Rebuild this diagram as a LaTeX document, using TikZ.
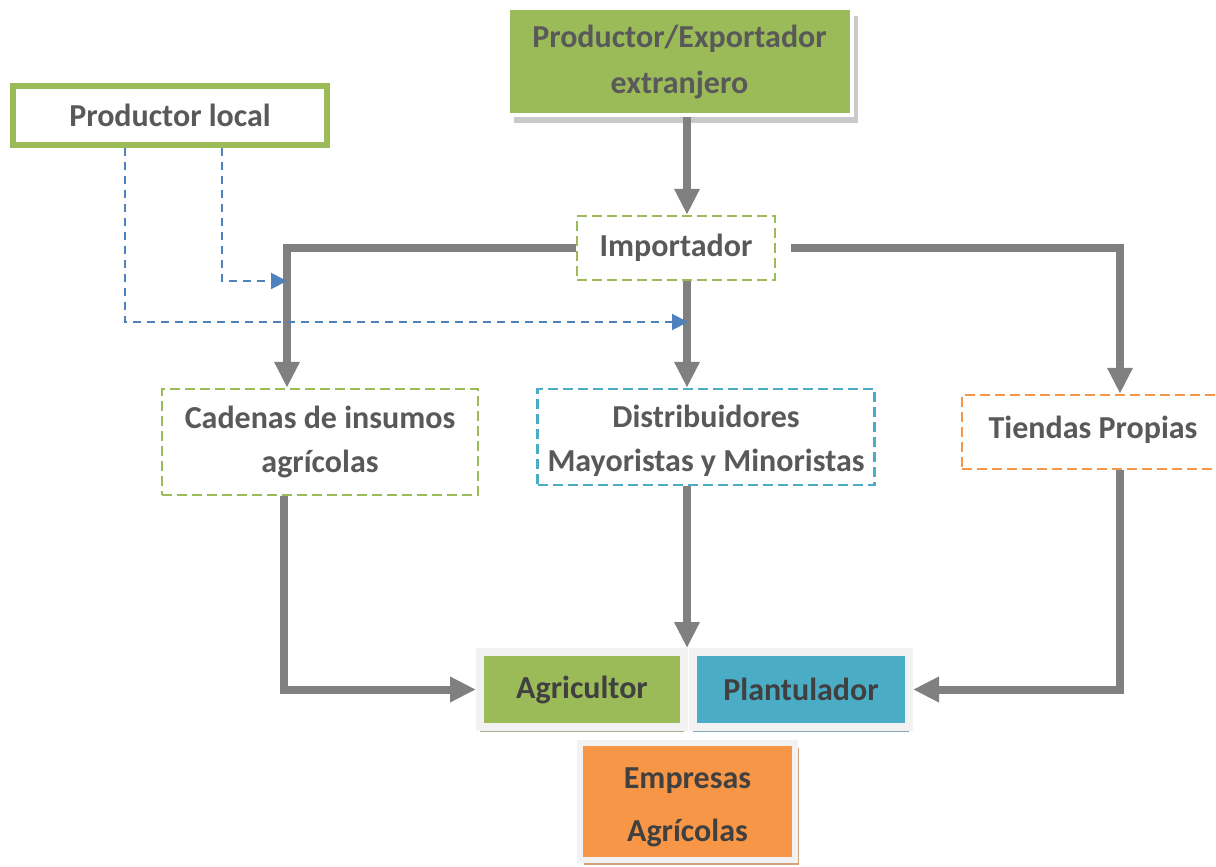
\documentclass[tikz,border=0pt]{standalone}
\usepackage{fontspec}
\setmainfont{Carlito}
\usepackage{tikz}
\usetikzlibrary{arrows.meta, shadows}

\definecolor{leafgreen}{HTML}{9BBB59}
\definecolor{aquablue}{HTML}{4BACC6}
\definecolor{sunorange}{HTML}{F79646}
\definecolor{flowgray}{HTML}{808080}
\definecolor{linkblue}{HTML}{4F81BD}
\definecolor{txtgray}{HTML}{595959}
\definecolor{txtdark}{HTML}{404040}

\begin{document}
\begin{tikzpicture}[
  x=0.5pt, y=-0.5pt,
  lbl/.style={font=\bfseries\fontsize{16}{22}\selectfont, text=txtgray, align=center},
  filled/.style={rectangle, lbl, draw=white, line width=2pt},
  dashbox/.style={rectangle, lbl, draw, fill=white, line width=1.25pt, dash pattern=on 5pt off 2.5pt},
  final/.style={rectangle, lbl, text=txtdark, draw=black!5, line width=4pt,
                minimum width=102pt, minimum height=37.5pt},
  flow/.style={draw=flowgray, line width=4pt, -{Triangle[width=12pt,length=13pt]}},
  feed/.style={draw=linkblue, line width=1pt, dash pattern=on 4pt off 3pt, -{Triangle[width=8pt,length=8pt]}},
]
  \useasboundingbox (0,0) rectangle (1216,867);

  % sources
  \node[filled, fill=leafgreen, minimum width=172pt, minimum height=53.5pt,
        font=\bfseries\fontsize{16}{23}\selectfont, yshift=-2pt,
        drop shadow={shadow xshift=3pt, shadow yshift=-4pt, fill=black!30, opacity=0.7}]
        (exp) at (679.5,57.5) {Productor/Exportador\\extranjero};
  \node[rectangle, lbl, draw=leafgreen, fill=white, line width=3pt,
        minimum width=157pt, minimum height=29.5pt] (loc) at (170,115.5) {Productor local};

  % middle level
  \node[dashbox, draw=leafgreen, minimum width=99pt, minimum height=32pt] (imp) at (676,248) {Importador};
  \node[dashbox, draw=leafgreen, minimum width=158pt, minimum height=53pt] (cad) at (320,442) {Cadenas de insumos\\agrícolas};
  \node[dashbox, draw=aquablue, minimum width=168.5pt, minimum height=48pt] (dis) at (706,437) {\rule{0pt}{15pt}Distribuidores\\Mayoristas y Minoristas};
  \node[dashbox, draw=sunorange, minimum width=131pt, minimum height=37pt, text depth=5pt] (tie) at (1093,432) {Tiendas Propias};

  % end users
  \node[final, fill=leafgreen,
        drop shadow={shadow xshift=0pt, shadow yshift=-2.5pt, fill=leafgreen!50!gray, opacity=0.8}]
        (agr) at (582,689.5) {Agricultor};
  \node[final, fill=aquablue, minimum width=108pt,
        drop shadow={shadow xshift=0pt, shadow yshift=-2.5pt, fill=aquablue!50!gray, opacity=0.8}]
        (pla) at (801,689.5) {Plantulador};
  \node[final, fill=sunorange, line width=3pt, minimum width=107.5pt, minimum height=58.5pt,
        font=\bfseries\fontsize{16}{26.5}\selectfont,
        drop shadow={shadow xshift=2pt, shadow yshift=-2.5pt, fill=sunorange!60!gray, opacity=0.8}]
        (emp) at (687.5,801.5) {\rule{0pt}{16pt}Empresas\\Agrícolas};

  % columns of the connectors
  \coordinate (ax) at (687,0);
  \coordinate (cx) at (287,0);
  \coordinate (cx2) at (284,0);
  \coordinate (tx) at (1120,0);
  \coordinate (bx1) at (125,0);
  \coordinate (bx2) at (222,0);
  \coordinate (m1) at (287,281);
  \coordinate (m2) at (688,322);

  \draw[flow] (exp.south -| ax) -- (imp.north -| ax);
  \draw[flow] (imp.west) -| (cad.north -| cx);
  \draw[flow] (imp.south -| ax) -- (dis.north -| ax);
  \draw[flow] ([xshift=7.5pt]imp.east) -| (tie.north -| tx);
  \draw[flow] (cad.south -| cx2) |- (agr.west);
  \draw[flow] (dis.south -| ax) -- (agr.north -| ax);
  \draw[flow] (tie.south -| tx) |- (pla.east);

  \draw[feed] (loc.south -| bx2) |- (m1);
  \draw[feed] (loc.south -| bx1) |- (m2);
\end{tikzpicture}
\end{document}
